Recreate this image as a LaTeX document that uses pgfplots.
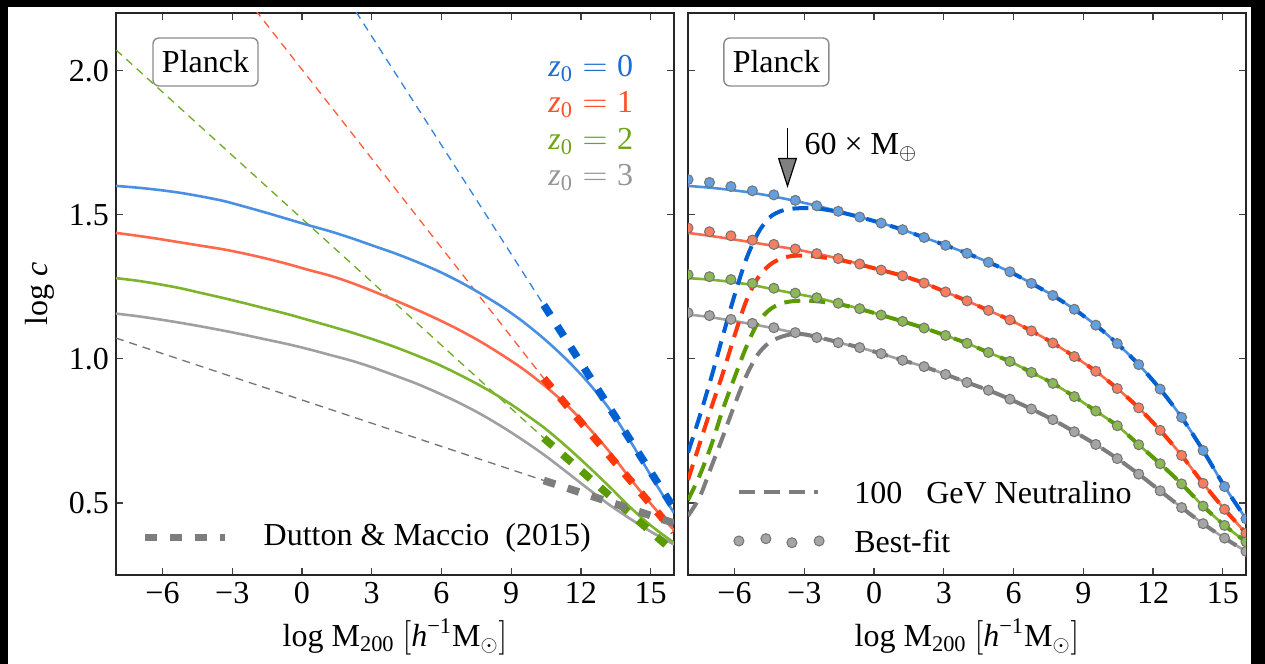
\documentclass[border=0pt]{standalone}
\usepackage{fontspec}
\setmainfont{Liberation Serif}
\usepackage{pgfplots}
\pgfplotsset{compat=1.18}
\usetikzlibrary{arrows.meta}

\definecolor{bsol}{RGB}{74,144,226}
\definecolor{rsol}{RGB}{255,105,75}
\definecolor{gsol}{RGB}{125,180,45}
\definecolor{ksol}{RGB}{160,160,160}
\definecolor{bthk}{RGB}{0,96,210}
\definecolor{rthk}{RGB}{255,55,10}
\definecolor{gthk}{RGB}{90,155,0}
\definecolor{kthk}{RGB}{125,125,125}
\definecolor{bthn}{RGB}{50,130,225}
\definecolor{rthn}{RGB}{255,90,60}
\definecolor{gthn}{RGB}{110,170,35}
\definecolor{kthn}{RGB}{115,115,115}
\definecolor{bdot}{RGB}{100,160,225}
\definecolor{rdot}{RGB}{250,125,95}
\definecolor{gdot}{RGB}{140,185,85}
\definecolor{kdot}{RGB}{165,165,165}
\definecolor{btxt}{RGB}{30,110,210}
\definecolor{rtxt}{RGB}{255,80,40}
\definecolor{gtxt}{RGB}{110,165,20}
\definecolor{ktxt}{RGB}{150,150,150}

\tikzset{lab/.style={font=\fontsize{16}{19}\selectfont}}
\pgfplotsset{
  myax/.style={
    scale only axis, width=279pt, height=281pt,
    xmin=-8, xmax=16, ymin=0.25, ymax=2.2,
    xtick={-6,-3,0,3,6,9,12,15},
    xticklabels={−6,−3,0,3,6,9,12,15},
    ytick={0.5,1,1.5,2},
    tick align=inside, major tick length=3.5pt,
    tick style={line width=0.6pt, color=black!75},
    axis line style={line width=1.1pt, color=black!85},
    every tick label/.append style={font=\fontsize{16}{19}\selectfont},
    label style={font=\fontsize{16}{19}\selectfont},
    clip marker paths=true,
    xlabel={log M\textsubscript{200} $\big[$\textit{h}\textsuperscript{−1}M$_\odot$$\big]$},
    xlabel style={at={(axis description cs:0.5,0)}, anchor=center, yshift=-31pt},
  },
  msol/.style={line width=1.3pt, smooth},
  dmthin/.style={line width=0.65pt, dash pattern=on 4pt off 3pt},
  dmthk/.style={line width=3.8pt, dash pattern=on 6pt off 6.5pt},
  neu/.style={line width=2pt, dash pattern=on 8pt off 4.5pt, smooth},
  bfdots/.style={only marks, mark=*, mark size=2.5pt, mark options={draw=black!55, line width=0.5pt, fill=#1}},
}

\begin{document}
\begin{tikzpicture}
\fill[black] (0pt,0pt) rectangle (632.5pt,332pt);
\fill[white] (4pt,0pt) rectangle (625.5pt,328.5pt);

% ---------------- left panel ----------------
\begin{axis}[myax, at={(58pt,44.5pt)}, anchor=south west,
  yticklabels={0.5,1.0,1.5,2.0},
  ylabel={log \textit{c}},
  ylabel style={at={(axis description cs:-0.136,0.5)}, anchor=center},
]
% thin D&M extrapolations
\addplot[bthn, dmthin] coordinates {(2.0,2.245) (10.4,1.187)};
\addplot[rthn, dmthin] coordinates {(-2.0,2.21) (10.4,0.932)};
\addplot[gthn, dmthin] coordinates {(-8,2.072) (10.4,0.725)};
\addplot[kthn, dmthin] coordinates {(-8,1.072) (10.4,0.578)};
% solid model curves
\addplot[bsol, msol] coordinates {(-8,1.600) (-7.077,1.594) (-6.154,1.586) (-5.231,1.576) (-4.308,1.563) (-3.385,1.548) (-2.462,1.528) (-1.538,1.507) (-0.615,1.485) (0.308,1.463) (1.231,1.442) (2.154,1.418) (3.077,1.392) (4.0,1.366) (4.923,1.337) (5.846,1.305) (6.769,1.268) (7.692,1.226) (8.615,1.180) (9.538,1.127) (10.462,1.066) (11.385,0.997) (12.308,0.918) (13.231,0.825) (14.154,0.710) (15.077,0.585) (16.0,0.465)};
\addplot[rsol, msol] coordinates {(-8,1.437) (-7.077,1.427) (-6.154,1.416) (-5.231,1.404) (-4.308,1.392) (-3.385,1.380) (-2.462,1.365) (-1.538,1.348) (-0.615,1.329) (0.308,1.308) (1.231,1.288) (2.154,1.263) (3.077,1.234) (4.0,1.203) (4.923,1.171) (5.846,1.137) (6.769,1.100) (7.692,1.059) (8.615,1.013) (9.538,0.963) (10.462,0.905) (11.385,0.840) (12.308,0.763) (13.231,0.677) (14.154,0.581) (15.077,0.490) (16.0,0.405)};
\addplot[gsol, msol] coordinates {(-8,1.280) (-7.077,1.271) (-6.154,1.259) (-5.231,1.245) (-4.308,1.228) (-3.385,1.211) (-2.462,1.193) (-1.538,1.174) (-0.615,1.155) (0.308,1.134) (1.231,1.113) (2.154,1.091) (3.077,1.067) (4.0,1.041) (4.923,1.012) (5.846,0.981) (6.769,0.945) (7.692,0.906) (8.615,0.862) (9.538,0.812) (10.462,0.758) (11.385,0.695) (12.308,0.627) (13.231,0.556) (14.154,0.482) (15.077,0.417) (16.0,0.362)};
\addplot[ksol, msol] coordinates {(-8,1.157) (-7.077,1.148) (-6.154,1.137) (-5.231,1.125) (-4.308,1.112) (-3.385,1.098) (-2.462,1.083) (-1.538,1.067) (-0.615,1.051) (0.308,1.033) (1.231,1.013) (2.154,0.993) (3.077,0.969) (4.0,0.942) (4.923,0.914) (5.846,0.882) (6.769,0.847) (7.692,0.808) (8.615,0.764) (9.538,0.716) (10.462,0.664) (11.385,0.607) (12.308,0.549) (13.231,0.493) (14.154,0.443) (15.077,0.397) (16.0,0.356)};
% thick D&M range
\addplot[bthk, dmthk] coordinates {(10.4,1.187) (16,0.481)};
\addplot[rthk, dmthk] coordinates {(10.4,0.932) (16,0.400)};
\addplot[gthk, dmthk] coordinates {(10.4,0.725) (16,0.330)};
\addplot[kthk, dmthk] coordinates {(10.4,0.578) (16,0.430)};
% legend sample
\addplot[kthk, dmthk] coordinates {(-6.77,0.38) (-3.31,0.38)};
\node[lab, anchor=west] at (-1.95,0.38) {Dutton \& Maccio\hspace{0.25em} (2015)};
% labels
\node[lab, rounded corners=3pt, draw=black!45, line width=0.7pt, fill=white, minimum width=52.5pt, minimum height=24pt, inner sep=0pt] at (-4.15,2.03) {Planck};
\node[lab, anchor=base east, text=btxt] at (14.55,1.979) {\textit{z}\textsubscript{0}$\;=\;$0};
\node[lab, anchor=base east, text=rtxt] at (14.55,1.854) {\textit{z}\textsubscript{0}$\;=\;$1};
\node[lab, anchor=base east, text=gtxt] at (14.55,1.728) {\textit{z}\textsubscript{0}$\;=\;$2};
\node[lab, anchor=base east, text=ktxt] at (14.55,1.602) {\textit{z}\textsubscript{0}$\;=\;$3};
\end{axis}

% ---------------- right panel ----------------
\begin{axis}[myax, at={(344pt,44.5pt)}, anchor=south west,
  yticklabels={},
]
% solid model curves
\addplot[bsol, msol] coordinates {(-8,1.600) (-7.077,1.594) (-6.154,1.586) (-5.231,1.576) (-4.308,1.563) (-3.385,1.548) (-2.462,1.531) (-1.538,1.512) (-0.615,1.492) (0.308,1.471) (1.231,1.448) (2.154,1.421) (3.077,1.394) (4.0,1.366) (4.923,1.335) (5.846,1.302) (6.769,1.262) (7.692,1.220) (8.615,1.172) (9.538,1.117) (10.462,1.053) (11.385,0.980) (12.308,0.895) (13.231,0.797) (14.154,0.682) (15.077,0.557) (16.0,0.445)};
\addplot[rsol, msol] coordinates {(-8,1.437) (-7.077,1.427) (-6.154,1.416) (-5.231,1.404) (-4.308,1.392) (-3.385,1.380) (-2.462,1.365) (-1.538,1.348) (-0.615,1.329) (0.308,1.308) (1.231,1.288) (2.154,1.263) (3.077,1.232) (4.0,1.201) (4.923,1.168) (5.846,1.135) (6.769,1.097) (7.692,1.055) (8.615,1.008) (9.538,0.957) (10.462,0.897) (11.385,0.830) (12.308,0.752) (13.231,0.665) (14.154,0.568) (15.077,0.478) (16.0,0.395)};
\addplot[gsol, msol] coordinates {(-8,1.280) (-7.077,1.275) (-6.154,1.267) (-5.231,1.256) (-4.308,1.241) (-3.385,1.226) (-2.462,1.212) (-1.538,1.193) (-0.615,1.174) (0.308,1.152) (1.231,1.130) (2.154,1.107) (3.077,1.081) (4.0,1.054) (4.923,1.022) (5.846,0.991) (6.769,0.953) (7.692,0.915) (8.615,0.869) (9.538,0.819) (10.462,0.768) (11.385,0.702) (12.308,0.636) (13.231,0.566) (14.154,0.489) (15.077,0.422) (16.0,0.365)};
\addplot[ksol, msol] coordinates {(-8,1.154) (-7.077,1.145) (-6.154,1.133) (-5.231,1.120) (-4.308,1.106) (-3.385,1.090) (-2.462,1.074) (-1.538,1.056) (-0.615,1.039) (0.308,1.018) (1.231,0.995) (2.154,0.973) (3.077,0.946) (4.0,0.918) (4.923,0.891) (5.846,0.860) (6.769,0.826) (7.692,0.789) (8.615,0.747) (9.538,0.703) (10.462,0.654) (11.385,0.600) (12.308,0.542) (13.231,0.484) (14.154,0.428) (15.077,0.378) (16.0,0.332)};
% neutralino curves
\addplot[bthk, neu] coordinates {(-8,0.675) (-7.5,0.80) (-7.0,0.935) (-6.5,1.08) (-6.0,1.22) (-5.5,1.345) (-5.0,1.435) (-4.5,1.49) (-4.0,1.513) (-3.5,1.521) (-3.0,1.523) (-2.462,1.522) (-1.538,1.510) (-0.615,1.492) (0.308,1.471) (1.231,1.448) (2.154,1.421) (3.077,1.394) (4.0,1.366) (4.923,1.335) (5.846,1.302) (6.769,1.262) (7.692,1.220) (8.615,1.172) (9.538,1.117) (10.462,1.053) (11.385,0.980) (12.308,0.895) (13.231,0.797) (14.154,0.682) (15.077,0.557) (16.0,0.445)};
\addplot[rthk, neu] coordinates {(-8,0.58) (-7.5,0.705) (-7.0,0.83) (-6.5,0.95) (-6.0,1.08) (-5.5,1.20) (-5.0,1.28) (-4.5,1.325) (-4.0,1.348) (-3.5,1.357) (-3.0,1.358) (-2.462,1.355) (-1.538,1.344) (-0.615,1.327) (0.308,1.308) (1.231,1.288) (2.154,1.263) (3.077,1.232) (4.0,1.201) (4.923,1.168) (5.846,1.135) (6.769,1.097) (7.692,1.055) (8.615,1.008) (9.538,0.957) (10.462,0.897) (11.385,0.830) (12.308,0.752) (13.231,0.665) (14.154,0.568) (15.077,0.478) (16.0,0.395)};
\addplot[gthk, neu] coordinates {(-8,0.51) (-7.5,0.595) (-7.0,0.70) (-6.5,0.825) (-6.0,0.935) (-5.5,1.04) (-5.0,1.125) (-4.5,1.17) (-4.0,1.192) (-3.5,1.200) (-3.0,1.202) (-2.462,1.200) (-1.538,1.190) (-0.615,1.173) (0.308,1.152) (1.231,1.130) (2.154,1.107) (3.077,1.081) (4.0,1.054) (4.923,1.022) (5.846,0.991) (6.769,0.953) (7.692,0.915) (8.615,0.869) (9.538,0.819) (10.462,0.768) (11.385,0.702) (12.308,0.636) (13.231,0.566) (14.154,0.489) (15.077,0.422) (16.0,0.365)};
\addplot[kthk, neu] coordinates {(-8,0.455) (-7.5,0.52) (-7.0,0.625) (-6.5,0.73) (-6.0,0.84) (-5.5,0.94) (-5.0,1.015) (-4.5,1.057) (-4.0,1.076) (-3.5,1.086) (-3.0,1.085) (-2.462,1.076) (-1.538,1.058) (-0.615,1.039) (0.308,1.018) (1.231,0.995) (2.154,0.973) (3.077,0.946) (4.0,0.918) (4.923,0.891) (5.846,0.860) (6.769,0.826) (7.692,0.789) (8.615,0.747) (9.538,0.703) (10.462,0.654) (11.385,0.600) (12.308,0.542) (13.231,0.484) (14.154,0.428) (15.077,0.378) (16.0,0.332)};
% best-fit points
\addplot[bfdots=bdot] coordinates {(-8,1.622) (-7.077,1.612) (-6.154,1.598) (-5.231,1.583) (-4.308,1.569) (-3.385,1.550) (-2.462,1.531) (-1.538,1.512) (-0.615,1.492) (0.308,1.471) (1.231,1.448) (2.154,1.421) (3.077,1.394) (4.0,1.366) (4.923,1.335) (5.846,1.302) (6.769,1.262) (7.692,1.220) (8.615,1.172) (9.538,1.117) (10.462,1.053) (11.385,0.980) (12.308,0.895) (13.231,0.797) (14.154,0.682) (15.077,0.557) (16.0,0.445)};
\addplot[bfdots=rdot] coordinates {(-8,1.454) (-7.077,1.441) (-6.154,1.427) (-5.231,1.412) (-4.308,1.397) (-3.385,1.381) (-2.462,1.365) (-1.538,1.348) (-0.615,1.329) (0.308,1.308) (1.231,1.288) (2.154,1.263) (3.077,1.232) (4.0,1.201) (4.923,1.168) (5.846,1.135) (6.769,1.097) (7.692,1.055) (8.615,1.008) (9.538,0.957) (10.462,0.897) (11.385,0.830) (12.308,0.752) (13.231,0.665) (14.154,0.568) (15.077,0.478) (16.0,0.395)};
\addplot[bfdots=gdot] coordinates {(-8,1.292) (-7.077,1.285) (-6.154,1.275) (-5.231,1.262) (-4.308,1.245) (-3.385,1.228) (-2.462,1.212) (-1.538,1.193) (-0.615,1.174) (0.308,1.152) (1.231,1.130) (2.154,1.107) (3.077,1.081) (4.0,1.054) (4.923,1.022) (5.846,0.991) (6.769,0.953) (7.692,0.915) (8.615,0.869) (9.538,0.819) (10.462,0.768) (11.385,0.702) (12.308,0.636) (13.231,0.566) (14.154,0.489) (15.077,0.422) (16.0,0.365)};
\addplot[bfdots=kdot] coordinates {(-8,1.160) (-7.077,1.150) (-6.154,1.137) (-5.231,1.123) (-4.308,1.108) (-3.385,1.091) (-2.462,1.074) (-1.538,1.056) (-0.615,1.039) (0.308,1.018) (1.231,0.995) (2.154,0.973) (3.077,0.946) (4.0,0.918) (4.923,0.891) (5.846,0.860) (6.769,0.826) (7.692,0.789) (8.615,0.747) (9.538,0.703) (10.462,0.654) (11.385,0.600) (12.308,0.542) (13.231,0.484) (14.154,0.428) (15.077,0.378) (16.0,0.332)};
% legend samples
\addplot[kthk, line width=2pt, dash pattern=on 8pt off 4.5pt] coordinates {(-5.81,0.537) (-2.4,0.537)};
\addplot[bfdots=kdot] coordinates {(-5.81,0.368) (-4.65,0.376) (-3.53,0.362) (-2.36,0.368)};
\node[lab, anchor=west] at (-1.15,0.537) {100\hspace{0.5em} GeV Neutralino};
\node[lab, anchor=west] at (-1.15,0.368) {Best-fit};
% labels
\node[lab, rounded corners=3pt, draw=black!45, line width=0.7pt, fill=white, minimum width=52.5pt, minimum height=24pt, inner sep=0pt] at (-4.2,2.03) {Planck};
\draw[line width=0.6pt, -{Triangle[length=15pt, width=9.5pt, fill=black!50]}] (-3.72,1.80) -- (-3.72,1.593);
\node[lab, anchor=base west, inner sep=0pt] at (-3.0,1.708) {60 × M$_\oplus$};
\end{axis}
\pgfresetboundingbox
\path (0pt,0pt) rectangle (632.5pt,332pt);
\end{tikzpicture}
\end{document}
